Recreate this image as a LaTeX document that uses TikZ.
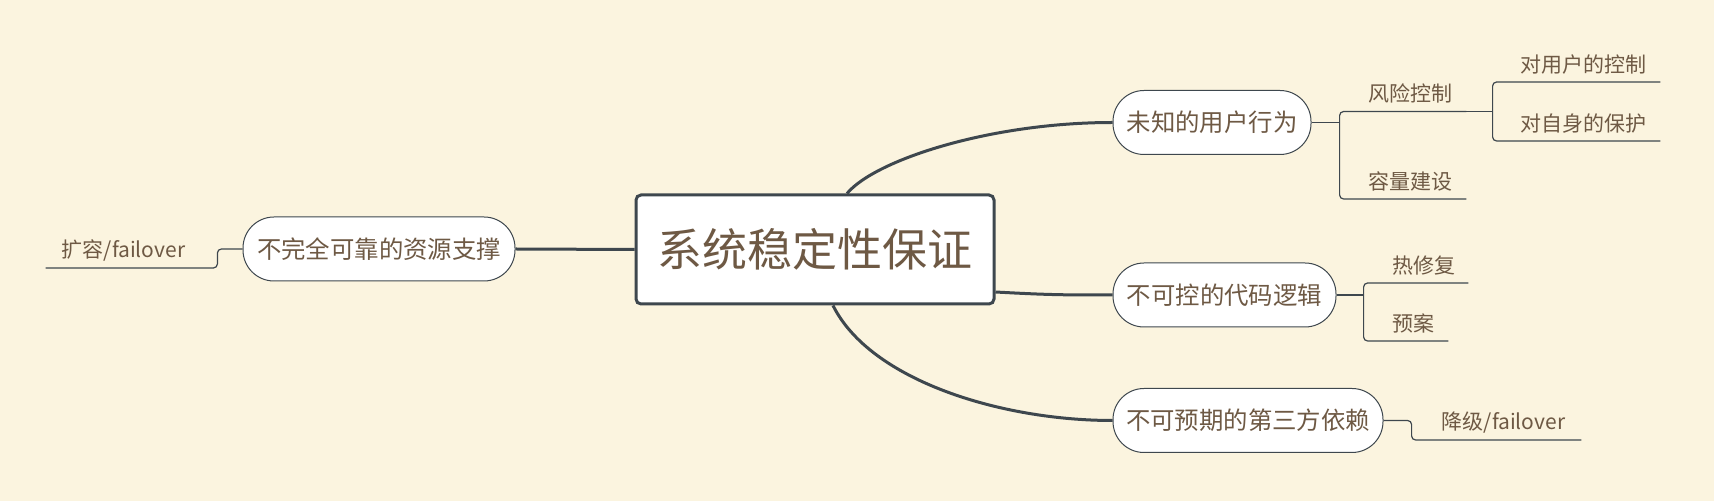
\documentclass[tikz,border=0pt]{standalone}
\usepackage{fontspec}
\newfontfamily\cjk{Noto Sans CJK SC}
\usetikzlibrary{calc}
\definecolor{bg}{HTML}{FBF4DF}
\definecolor{txt}{HTML}{6E5944}
\definecolor{ln}{HTML}{3E474E}
\begin{document}
\begin{tikzpicture}[x=0.5pt,y=-0.5pt,
  every node/.style={font=\cjk, text=txt, inner sep=0pt},
  root/.style={draw=ln, line width=1.5pt, fill=white, rounded corners=2.5pt,
    minimum width=179pt, minimum height=54.5pt, font=\cjk\fontsize{22.5pt}{27pt}\selectfont},
  topic/.style={draw=ln, line width=0.5pt, fill=white, rounded corners=15.5pt,
    minimum height=32pt, font=\cjk\fontsize{12.2pt}{15pt}\selectfont},
  sub/.style={minimum height=17.5pt, anchor=south, font=\cjk\fontsize{10.5pt}{13pt}\selectfont},
  thicklink/.style={draw=ln, line width=1.5pt},
  thinlink/.style={draw=ln, line width=0.6pt, rounded corners=2pt},
]
\fill[bg] (0,0) rectangle (1714,501);
\useasboundingbox (0,0) rectangle (1714,501);

% main nodes
\node[root] (root) at (815,249.5) {系统稳定性保证};
\node[topic, minimum width=136pt] (res) at (379,249) {不完全可靠的资源支撑};
\node[topic, minimum width=99pt] (user) at (1212,122.5) {未知的用户行为};
\node[topic, minimum width=111.5pt] (code) at (1224.5,295) {不可控的代码逻辑};
\node[topic, minimum width=135pt] (dep) at (1248,420.5) {不可预期的第三方依赖};

% sub nodes (south side = underline)
\node[sub, minimum width=85.5pt] (exp) at (131.5,268) {扩容/failover\hspace*{8pt}};
\node[sub, minimum width=63pt] (risk) at (1403,111.5) {\hspace*{7pt}风险控制};
\node[sub, minimum width=63pt] (cap) at (1403,199) {\hspace*{7pt}容量建设};
\node[sub, minimum width=83.5pt] (ctrl) at (1576.5,82) {\hspace*{7pt}对用户的控制};
\node[sub, minimum width=83.5pt] (self) at (1576.5,141) {\hspace*{7pt}对自身的保护};
\node[sub, minimum width=52pt] (hot) at (1416,283) {\hspace*{8pt}热修复};
\node[sub, minimum width=42pt] (plan) at (1406,341) {\hspace*{7pt}预案};
\node[sub, minimum width=84.5pt] (deg) at (1496.5,440) {\hspace*{7pt}降级/failover};

% thick connectors
\draw[thicklink] (root.west) -- (res.east);
\draw[thicklink] ($(root.north)+(32,0)$) .. controls (875,160) and (990,122.5) .. (user.west);
\draw[thicklink] ($(root.east)+(0,42.5)$) .. controls (1050,295) and (1065,295) .. (code.west);
\draw[thicklink] ($(root.south)+(18,0)$) .. controls (870,380) and (1000,420.5) .. (dep.west);

% thin connectors
\draw[thinlink] (res.west) -- (res.west -| exp.south east) -- (exp.south east) -- (exp.south west);
\draw[thinlink] (user.east) -- (user.east -| risk.south west);
\draw[thinlink] (risk.south east) -- (risk.south west) -- (cap.south west) -- (cap.south east);
\draw[thinlink] (risk.south east) -- (risk.south east -| ctrl.south west);
\draw[thinlink] (ctrl.south east) -- (ctrl.south west) -- (self.south west) -- (self.south east);
\draw[thinlink] (code.east) -- (code.east -| hot.south west);
\draw[thinlink] (hot.south east) -- (hot.south west) -- (plan.south west) -- (plan.south east);
\draw[thinlink] (dep.east) -- (dep.east -| deg.south west) -- (deg.south west) -- (deg.south east);
\end{tikzpicture}
\end{document}
